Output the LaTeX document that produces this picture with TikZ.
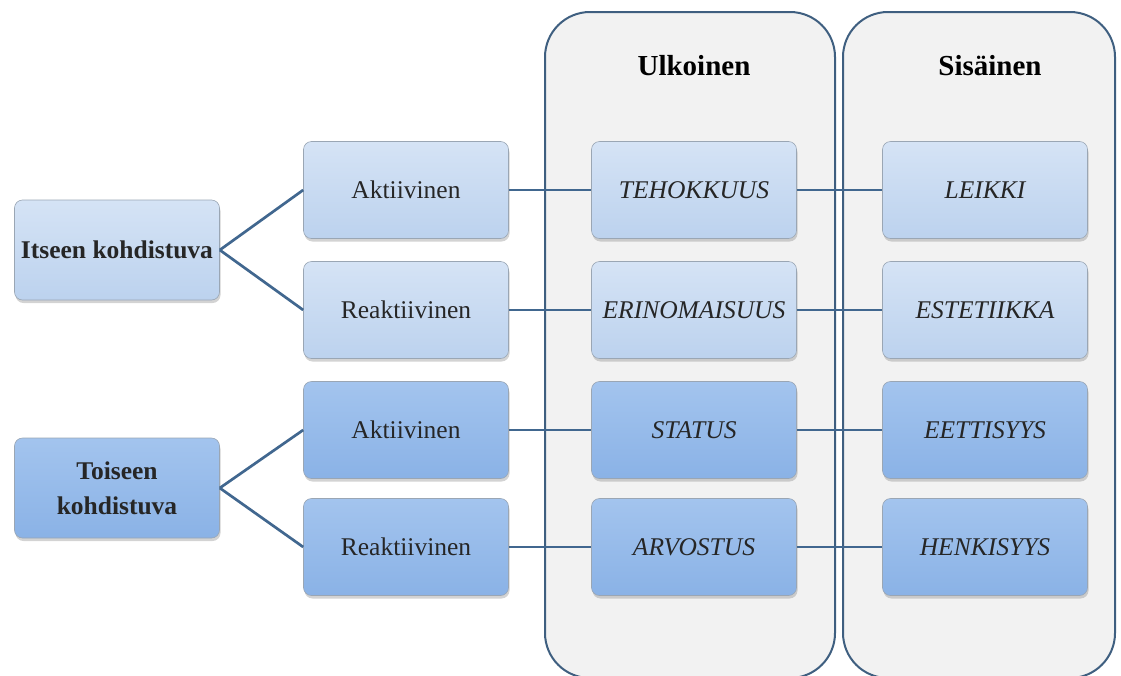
\documentclass[tikz,border=0pt]{standalone}
\usepackage{fontspec}
\setmainfont{Liberation Serif}
\usetikzlibrary{shadows}
\definecolor{lineblue}{HTML}{41678F}
\definecolor{colfill}{HTML}{F2F2F2}
\definecolor{colborder}{HTML}{3F5F80}
\definecolor{lightA}{HTML}{D5E3F5}
\definecolor{lightB}{HTML}{BCD2EE}
\definecolor{darkA}{HTML}{A3C4EE}
\definecolor{darkB}{HTML}{8AB2E6}
\definecolor{boxedge}{HTML}{9AA6B4}
\begin{document}
\begin{tikzpicture}[x=1pt,y=-1pt,
  box/.style={rounded corners=8pt, draw=boxedge, line width=0.6pt,
    minimum width=205pt, minimum height=97pt, text=black!85,
    font=\fontsize{25.5}{34}\selectfont, align=center,
    drop shadow={shadow xshift=1pt, shadow yshift=-3pt, opacity=0.35}},
  lite/.style={box, top color=lightA, bottom color=lightB},
  dark/.style={box, top color=darkA, bottom color=darkB},
  it/.style={font=\fontsize{25.5}{34}\selectfont\itshape},
  bf/.style={font=\fontsize{25.5}{35}\selectfont\bfseries, minimum height=100pt},
  conn/.style={draw=lineblue, line width=2.7pt},
  col/.style={draw=colborder, line width=2pt, fill=colfill, rounded corners=45pt},
  head/.style={font=\fontsize{29}{32}\selectfont\bfseries, text=black}]
\useasboundingbox (0,0) rectangle (1121,675);
% columns
\node[col, minimum width=290pt, minimum height=666pt] (ulk) at (690,345) {};
\node[col, minimum width=272pt, minimum height=666pt] (sis) at (979,345) {};
\node[head] (hu) at (694,66) {Ulkoinen};
\node[head] (hs) at (990,66) {Sisäinen};
% left boxes
\node[lite, bf] (itse) at (117,250) {Itseen kohdistuva};
\node[dark, bf] (toi) at (117,488) {Toiseen\\kohdistuva};
% middle boxes
\node[lite] (a1) at (406,190) {Aktiivinen};
\node[lite] (r1) at (406,310) {Reaktiivinen};
\node[dark] (a2) at (406,430) {Aktiivinen};
\node[dark] (r2) at (406,547) {Reaktiivinen};
% Ulkoinen boxes
\node[lite, it] (teh) at (694,190) {TEHOKKUUS};
\node[lite, it] (eri) at (694,310) {ERINOMAISUUS};
\node[dark, it] (sta) at (694,430) {STATUS};
\node[dark, it] (arv) at (694,547) {ARVOSTUS};
% Sisainen boxes
\node[lite, it] (lei) at (985,190) {LEIKKI};
\node[lite, it] (est) at (985,310) {ESTETIIKKA};
\node[dark, it] (eet) at (985,430) {EETTISYYS};
\node[dark, it] (hen) at (985,547) {HENKISYYS};
% connectors
\draw[conn] (itse.east) -- (a1.west);
\draw[conn] (itse.east) -- (r1.west);
\draw[conn] (toi.east) -- (a2.west);
\draw[conn] (toi.east) -- (r2.west);
\draw[conn] (a1.east) -- (teh.west);
\draw[conn] (r1.east) -- (eri.west);
\draw[conn] (a2.east) -- (sta.west);
\draw[conn] (r2.east) -- (arv.west);
\draw[conn] (teh.east) -- (lei.west);
\draw[conn] (eri.east) -- (est.west);
\draw[conn] (sta.east) -- (eet.west);
\draw[conn] (arv.east) -- (hen.west);
\end{tikzpicture}
\end{document}
